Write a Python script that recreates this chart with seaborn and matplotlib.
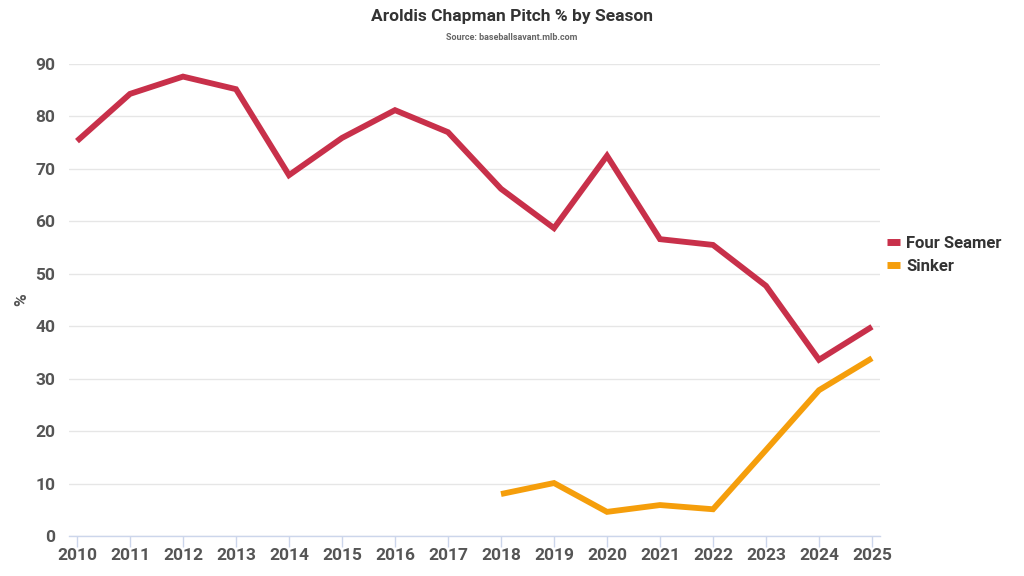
import matplotlib
matplotlib.use("Agg")
import matplotlib.pyplot as plt
import seaborn as sns
import pandas as pd
import numpy as np

years = list(range(2010, 2026))
four_seamer = [75.3, 84.3, 87.6, 85.2, 68.8, 75.9, 81.2, 77.0, 66.2, 58.7, 72.5, 56.6, 55.5, 47.7, 33.6, 39.9]
sinker_years = list(range(2018, 2026))
sinker = [8.0, 10.1, 4.6, 5.9, 5.1, 16.4, 27.8, 33.9]

series_names = ["Four Seamer", "Sinker"]
colors = ["#C8304A", "#F59E0B"]

df = pd.concat([
    pd.DataFrame({"Season": years, "Pct": four_seamer, "Pitch": series_names[0]}),
    pd.DataFrame({"Season": sinker_years, "Pct": sinker, "Pitch": series_names[1]}),
])

sns.set_theme(style="white")
plt.rcParams['font.family'] = ['Roboto', 'DejaVu Sans']

fig = plt.figure(figsize=(10.24, 5.76), dpi=100)
ax = fig.add_axes([69/1024, 1-536/576, (880-69)/1024, (536-64)/576])

sns.lineplot(data=df, x="Season", y="Pct", hue="Pitch", palette=dict(zip(series_names, colors)),
             linewidth=4.2, ax=ax, legend=False, clip_on=False, solid_capstyle="butt", solid_joinstyle="miter")

ax.set_xlim(2010 - 8/53, 2025 + 8/53)
ax.set_ylim(0, 90)
ax.set_xticks(years)
ax.set_yticks(range(0, 91, 10))
ax.yaxis.grid(True, color="#e6e6e6", linewidth=1)
ax.set_axisbelow(True)
for s in ["top", "right", "left"]:
    ax.spines[s].set_visible(False)
ax.spines["bottom"].set_color("#ccd6eb")
ax.spines["bottom"].set_linewidth(1)
ax.tick_params(axis="x", which="major", length=8, width=1, color="#ccd6eb", pad=1,
               labelsize=12.5, labelcolor="#555555", bottom=True)
ax.tick_params(axis="y", length=0, pad=10, labelsize=12.5, labelcolor="#555555")
for lab in ax.get_xticklabels() + ax.get_yticklabels():
    lab.set_fontweight("bold")
ax.set_xlabel("")
ax.set_ylabel("%", fontsize=12.5, color="#555555", fontweight="bold", labelpad=4)

fig.text(0.5, 1-17/576, "Aroldis Chapman Pitch % by Season", ha="center", va="center",
         fontsize=12.5, fontweight="bold", color="#333333")
fig.text(0.5, 1-38/576, "Source: baseballsavant.mlb.com", ha="center", va="center",
         fontsize=6.5, fontweight="bold", color="#666666")

from matplotlib.lines import Line2D
handles = [Line2D([0], [0], color=c, lw=5, solid_capstyle="butt") for c in colors]
leg = fig.legend(handles, series_names, loc="center left", bbox_to_anchor=(887/1024, 1-255/576),
                 frameon=False, handlelength=0.8, handletextpad=0.35, labelspacing=0.5,
                 borderaxespad=0, borderpad=0,
                 prop={"size": 12, "weight": "bold"})
for t in leg.get_texts():
    t.set_color("#333333")

fig.savefig("out.png", dpi=100)
